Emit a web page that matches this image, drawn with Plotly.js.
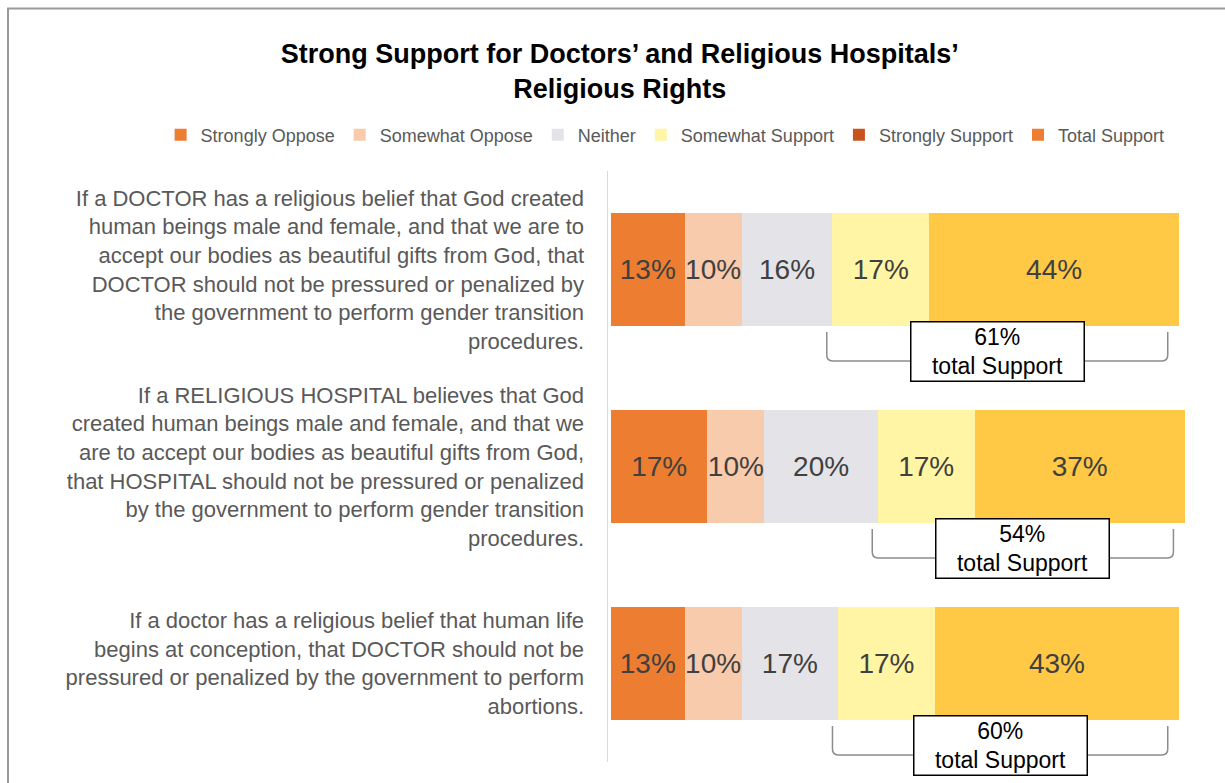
<!DOCTYPE html>
<html>
<head>
<meta charset="utf-8">
<script src="https://cdn.plot.ly/plotly-3.0.1.min.js"></script>
<style>html,body{margin:0;padding:0;background:#fff;}#chart{width:1225px;height:783px;}</style>
</head>
<body>
<div id="chart"></div>
<script>
// ---- data ----
var questions = [
  "If a DOCTOR has a religious belief that God created<br>human beings male and female, and that we are to<br>accept our bodies as beautiful gifts from God, that<br>DOCTOR should not be pressured or penalized by<br>the government to perform gender transition<br>procedures.",
  "If a RELIGIOUS HOSPITAL believes that God<br>created human beings male and female, and that we<br>are to accept our bodies as beautiful gifts from God,<br>that HOSPITAL should not be pressured or penalized<br>by the government to perform gender transition<br>procedures.",
  "If a doctor has a religious belief that human life<br>begins at conception, that DOCTOR should not be<br>pressured or penalized by the government to perform<br>abortions."
];
var stronglyOppose  = [13, 17, 13];
var somewhatOppose  = [10, 10, 10];
var neither         = [16, 20, 17];
var somewhatSupport = [17, 17, 17];
var stronglySupport = [44, 37, 43];
var seriesNames = ["Strongly Oppose", "Somewhat Oppose", "Neither", "Somewhat Support", "Strongly Support", "Total Support"];
var chartTitle = "Strong Support for Doctors’ and Religious Hospitals’<br>Religious Rights";
var totalLabel = "total Support";

// ---- styles ----
var FONT = "Liberation Sans, Arial, sans-serif";
var barColors = ["#ED7D31", "#F8CBAD", "#E4E4E8", "#FFF5A5", "#FFC845"];
var legendOnlyColors = {"Strongly Support": "#C9531D", "Total Support": "#ED7D31"};
var pos = questions.map(function (q, i) { return i; });

var seriesVals = [stronglyOppose, somewhatOppose, neither, somewhatSupport, stronglySupport];
var traces = [];
seriesVals.forEach(function (vals, k) {
  traces.push({
    type: "bar", orientation: "h",
    name: seriesNames[k],
    x: vals, y: pos,
    width: 0.574,
    marker: {color: barColors[k], line: {width: 0}},
    text: vals.map(function (v) { return v + "%"; }),
    textposition: "inside", insidetextanchor: "middle", constraintext: "none", textangle: 0,
    textfont: {family: FONT, size: 28, color: "#404040"},
    hoverinfo: "name+x",
    showlegend: k < 4,
    legendrank: k + 1
  });
});
// legend-only entries (swatch colours as in the reference legend)
["Strongly Support", "Total Support"].forEach(function (nm, j) {
  traces.push({
    type: "bar", orientation: "h", name: nm,
    x: [0], y: [0], width: 0.574,
    marker: {color: legendOnlyColors[nm], line: {width: 0}},
    hoverinfo: "skip", showlegend: true, legendrank: 5 + j
  });
});

// ---- brackets & total boxes derived from the data ----
var shapes = [];
var annotations = [];
pos.forEach(function (i) {
  var left = stronglyOppose[i] + somewhatOppose[i] + neither[i] - 1;
  var total = stronglyOppose[i] + somewhatOppose[i] + neither[i] + somewhatSupport[i] + stronglySupport[i];
  var right = total - 2;
  var top = i + 0.317, bot = i + 0.464, rx = 1.0, ry = 0.03;
  var p = "M " + left + "," + top +
          " L " + left + "," + (bot - ry) +
          " Q " + left + "," + bot + " " + (left + rx) + "," + bot +
          " L " + (right - rx) + "," + bot +
          " Q " + right + "," + bot + " " + right + "," + (bot - ry) +
          " L " + right + "," + top;
  shapes.push({type: "path", xref: "x", yref: "y", path: p, line: {color: "#8c8c8c", width: 1.5}});
  annotations.push({
    xref: "x", yref: "y", x: (left + right) / 2, y: i + 0.414,
    text: (somewhatSupport[i] + stronglySupport[i]) + "%<br>" + totalLabel,
    showarrow: false, font: {family: FONT, size: 23, color: "#000"},
    bgcolor: "#fff", bordercolor: "#000", borderwidth: 1.5, borderpad: 1, width: 170
  });
});
// outer frame
shapes.push({type: "rect", xref: "paper", yref: "paper", x0: -1.0152, x1: 1.2, y0: -0.1, y1: 1.275,
  line: {color: "#9a9a9a", width: 2}, fillcolor: "rgba(0,0,0,0)", layer: "above"});

var layout = {
  width: 1225, height: 783,
  margin: {l: 608, r: 26, t: 171, b: 21},
  paper_bgcolor: "#fff", plot_bgcolor: "#fff",
  barmode: "stack",
  font: {family: FONT},
  title: {text: chartTitle, x: 0.506, xref: "container", xanchor: "center",
          y: 0.92, yref: "container", yanchor: "top",
          font: {family: FONT, size: 27, color: "#000", weight: "bold"}},
  legend: {orientation: "h", xref: "paper", yref: "paper", x: -0.757, xanchor: "left",
           y: 1.061, yanchor: "middle", font: {family: FONT, size: 18, color: "#595959"},
           traceorder: "normal", itemwidth: 30},
  xaxis: {range: [-0.5, 103.5], showgrid: false, zeroline: false, showticklabels: false, showline: false, fixedrange: true},
  yaxis: {range: [2.5, -0.5], tickvals: pos, ticktext: questions, showgrid: false, zeroline: false,
          showline: true, linecolor: "#d9d9d9", linewidth: 1.5, ticks: "", ticklabelstandoff: 18,
          tickfont: {family: FONT, size: 22, color: "#595959"}, fixedrange: true},
  shapes: shapes,
  annotations: annotations,
  hovermode: false
};

Plotly.newPlot("chart", traces, layout, {displayModeBar: false, staticPlot: true});
</script>
</body>
</html>
